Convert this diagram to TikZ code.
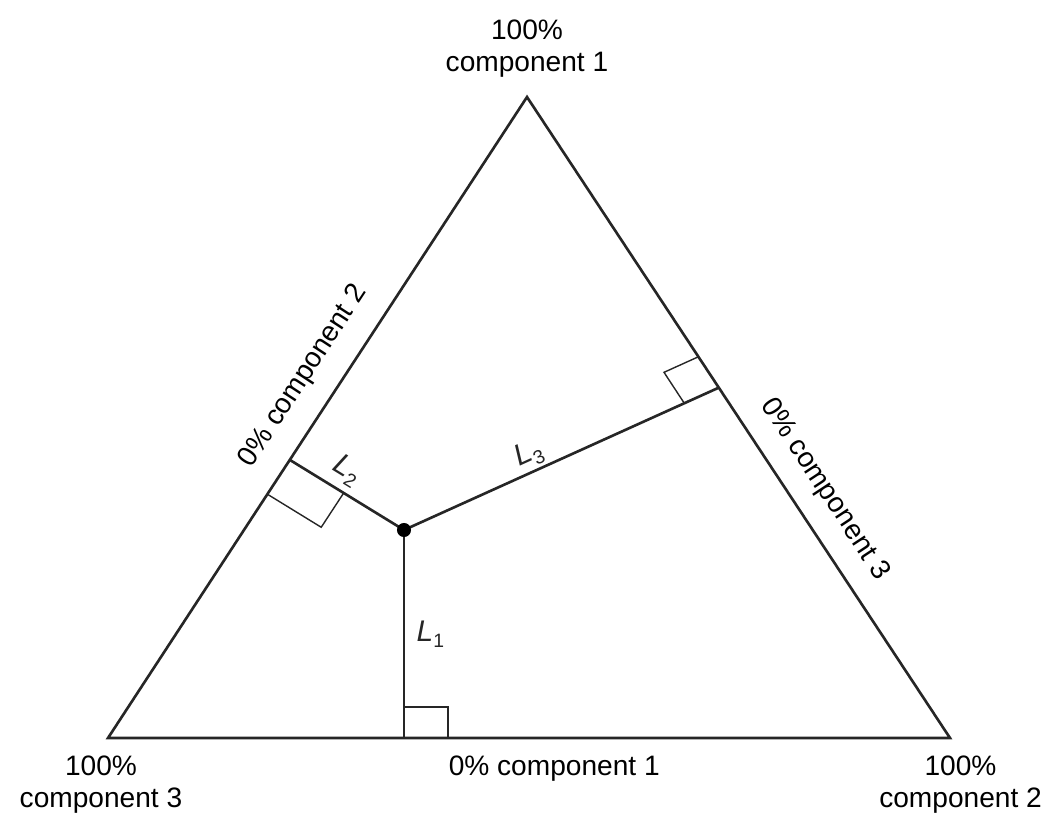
\documentclass[tikz,border=0pt]{standalone}
\usepackage{fontspec}
\setmainfont{Liberation Sans}
\usetikzlibrary{calc}
\newcommand{\Lsub}[1]{\textit{L}\raisebox{-3.5pt}{\fontsize{11}{11}\selectfont #1}}

\begin{document}
\begin{tikzpicture}[
    x=0.02cm, y=-0.02cm,
    side/.style={black!85, line width=1.5pt, line join=miter},
    leg/.style={black!85, line width=1.5pt},
    corner/.style={black!85, line width=0.8pt},
    lbl/.style={font=\fontsize{16}{18}\selectfont, align=center, inner sep=2pt},
    leglbl/.style={font=\fontsize{17}{19}\selectfont, inner sep=1.5pt}
]
\useasboundingbox (0,0) rectangle (1051,819);

% ---------- corners of the triangle ----------
\coordinate (c1) at (527,97);
\coordinate (c3) at (108,738);
\coordinate (c2) at (950,738);

% ---------- mixture point and the feet of its legs ----------
\coordinate (mix) at (404,530);
\coordinate (f1) at (404,738);
\coordinate (f2) at (290,460);
\coordinate (f3) at (718,388);

% ---------- right angle marks ----------
\foreach \f/\s/\a/\b in {f1/c2/0.88cm/0.62cm, f2/c3/0.82cm/1.26cm, f3/c1/0.74cm/0.74cm} {
  \coordinate (ra) at ($(\f)!\a!(\s)$);
  \coordinate (rb) at ($(\f)!\b!(mix)$);
  \draw[corner] (ra) -- ($(ra)+(rb)-(\f)$) -- (rb);
}

% ---------- sides ----------
\draw[side] (c1) -- (c2) -- (c3) -- cycle;
\path (c3) -- node[lbl, pos=0.535, sloped, above=10pt] (zero2) {0\% component 2} (c1);
\path (c1) -- node[lbl, pos=0.64, sloped, above=9pt] (zero3) {0\% component 3} (c2);
\path (c3) -- node[lbl, pos=0.53, below=8pt] (zero1) {0\% component 1} (c2);

% ---------- legs ----------
\draw[leg] (mix) -- node[leglbl, right=5pt] (l1) {\Lsub{1}} (f1);
\draw[leg] (f2) -- node[leglbl, pos=0.4, sloped, above=2pt] (l2) {\Lsub{2}} (mix);
\draw[leg] (mix) -- node[leglbl, pos=0.42, sloped, above=0pt] (l3) {\Lsub{3}} (f3);
\fill[black] (mix) circle (4pt);

% ---------- vertex labels ----------
\node[lbl, above=9pt] (v1) at (c1) {100\%\\component 1};
\node[lbl, below=8pt, xshift=-4pt] (v3) at (c3) {100\%\\component 3};
\node[lbl, below=8pt, xshift=6pt] (v2) at (c2) {100\%\\component 2};

\end{tikzpicture}
\end{document}
